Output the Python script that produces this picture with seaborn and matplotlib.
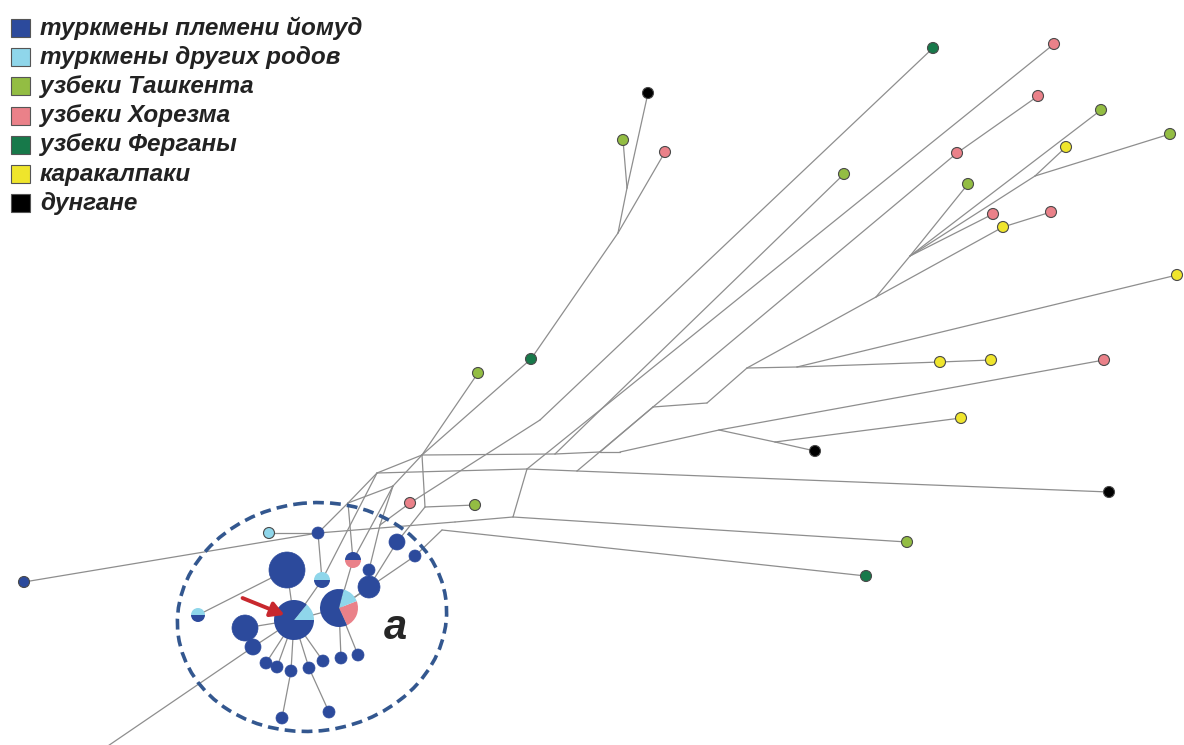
import numpy as np
import pandas as pd
import seaborn as sns
import matplotlib.pyplot as plt
from matplotlib.patches import Wedge, Rectangle, Ellipse

# groups for the legend
group_keys = ['yom', 'oth', 'tash', 'khor', 'ferg', 'kar', 'dung']
group_labels = ['туркмены племени йомуд', 'туркмены других родов', 'узбеки Ташкента',
                'узбеки Хорезма', 'узбеки Ферганы', 'каракалпаки', 'дунгане']
group_colors = ['#2c4a9c', '#8fd6ea', '#93bd43', '#ea8189', '#17794a', '#efe52c', '#000000']

# network nodes: haplotypes (h, c) and median vectors (m, w); position in picture px
node_id = ['h1', 'h2', 'h3', 'h4', 'h5', 'h6', 'h7', 'h8', 'h9', 'h10',
           'h11', 'h12', 'h13', 'h14', 'h15', 'h16', 'h17', 'h18', 'h19', 'h20',
           'h21', 'h22', 'h23', 'h24', 'h25', 'h26', 'h27', 'h28', 'h29', 'h30',
           'c1', 'c2', 'c3', 'c4', 'c5', 'c6', 'c7', 'c8', 'c9', 'c10',
           'c11', 'c12', 'c13', 'c14', 'c15', 'c16', 'c17', 'c18', 'c19', 'c20',
           'c21', 'c22',
           'm1', 'm2', 'm3', 'm4', 'm5', 'm6', 'm7', 'm8', 'm9', 'm10',
           'm11', 'm12', 'm13', 'm14', 'm15', 'm16', 'm17', 'm18', 'm19', 'm20',
           'm21', 'm22', 'm23', 'w1', 'w2', 'w4', 'off']
node_x = [648, 623, 665, 933, 1054, 1038, 1101, 1066, 1170, 957,
          844, 968, 993, 1003, 1051, 1177, 531, 478, 940, 991,
          1104, 961, 815, 1109, 410, 475, 907, 866, 24, 269,
          287, 294, 339, 397, 318, 353, 322, 369, 369, 415,
          198, 245, 253, 266, 277, 291, 309, 323, 341, 358,
          282, 329,
          422, 377, 425, 620, 719, 527, 513, 618, 627, 747,
          797, 876, 653, 707, 910, 1035, 775, 455, 442, 555,
          600, 540, 577, 348, 393, 380, 80]
node_y = [93, 140, 152, 48, 44, 96, 110, 147, 134, 153,
          174, 184, 214, 227, 212, 275, 359, 373, 362, 360,
          360, 418, 451, 492, 503, 505, 542, 576, 582, 533,
          570, 620, 608, 542, 533, 560, 580, 570, 587, 556,
          615, 628, 647, 663, 667, 671, 668, 661, 658, 655,
          718, 712,
          455, 473, 507, 452, 430, 469, 517, 233, 188, 368,
          367, 297, 407, 403, 256, 176, 442, 522, 530, 454,
          452, 420, 471, 503, 486, 525, 765]
node_grp = ['dung', 'tash', 'khor', 'ferg', 'khor', 'khor', 'tash', 'kar', 'tash', 'khor',
            'tash', 'tash', 'khor', 'kar', 'khor', 'kar', 'ferg', 'tash', 'kar', 'kar',
            'khor', 'kar', 'dung', 'dung', 'khor', 'tash', 'tash', 'ferg', 'yom', 'oth',
            'yom', 'pie', 'pie', 'yom', 'yom', 'pie', 'pie', 'yom', 'yom', 'yom',
            'pie', 'yom', 'yom', 'yom', 'yom', 'yom', 'yom', 'yom', 'yom', 'yom',
            'yom', 'yom'] + ['mv'] * 27
node_r = [5.5] * 30 + [18, 20, 19, 8, 6, 8, 8, 6, 11, 6,
                       7, 13, 8, 6, 6, 6, 6, 6, 6, 6,
                       6, 6] + [0] * 27

# links of the network
edges = [('h17', 'm8'), ('m8', 'h3'), ('m8', 'm9'), ('m9', 'h2'), ('m9', 'h1'),
         ('m1', 'h17'), ('m1', 'h18'), ('m1', 'm2'), ('m1', 'm20'), ('m20', 'm21'),
         ('m21', 'm4'), ('m1', 'm3'), ('m2', 'm6'), ('m6', 'm23'), ('m23', 'h24'),
         ('m6', 'm7'), ('m7', 'h27'), ('m3', 'h26'),
         ('h25', 'm22'), ('m22', 'h4'), ('m20', 'h11'), ('m6', 'h5'),
         ('m21', 'm13'), ('m13', 'h10'), ('h10', 'h6'), ('m13', 'm14'), ('m14', 'm10'),
         ('m10', 'm11'), ('m11', 'h19'), ('h19', 'h20'), ('m11', 'h16'), ('m10', 'm12'),
         ('m12', 'm15'), ('m15', 'h12'), ('m12', 'h14'), ('h14', 'h15'), ('m15', 'h13'),
         ('m15', 'm16'), ('m16', 'h8'), ('m15', 'h7'), ('m16', 'h9'), ('m23', 'm13'),
         ('m4', 'm5'), ('m5', 'h21'), ('m5', 'm17'), ('m17', 'h23'), ('m17', 'h22'),
         ('m18', 'm7'), ('c5', 'm18'), ('c10', 'm19'), ('m19', 'h28'), ('c3', 'c10'),
         ('h29', 'c5'), ('h30', 'c5'),
         ('m2', 'w1'), ('m1', 'w2'), ('w1', 'w2'), ('w1', 'c6'), ('w1', 'c5'),
         ('w2', 'w4'), ('w4', 'c8'), ('m3', 'c4'), ('w4', 'h25'), ('c4', 'c9'),
         ('m2', 'c7'), ('w2', 'c6'),
         ('c1', 'c2'), ('c2', 'c14'), ('c2', 'c15'), ('c2', 'c16'), ('c2', 'c17'),
         ('c2', 'c18'), ('c3', 'c19'), ('c3', 'c20'), ('c16', 'c21'), ('c17', 'c22'),
         ('c11', 'c1'), ('off', 'c13'), ('c13', 'c2'), ('c12', 'c2'), ('c7', 'c2'),
         ('c5', 'c7'), ('c6', 'c3'), ('c8', 'c9'), ('c9', 'c3'), ('c2', 'c3')]

# mixed haplotypes: start angle (deg, counter-clockwise) and shares
pie_id = ['c2', 'c3', 'c6', 'c7', 'c11']
pie_start = [0, -65, 0, 0, 0]
pie_parts = [[('oth', 0.14), ('yom', 0.86)],
             [('khor', 0.24), ('oth', 0.15), ('yom', 0.61)],
             [('yom', 0.5), ('khor', 0.5)],
             [('oth', 0.5), ('yom', 0.5)],
             [('oth', 0.5), ('yom', 0.5)]]

pal = dict(zip(group_keys, group_colors))
nodes = pd.DataFrame({'id': node_id, 'x': node_x, 'y': node_y,
                      'grp': node_grp, 'r': node_r}).set_index('id')
nodes['area'] = (2 * nodes['r'] * 0.72) ** 2

rows = []
for k, (a, b) in enumerate(edges):
    rows.append((k, nodes.loc[a, 'x'], nodes.loc[a, 'y']))
    rows.append((k, nodes.loc[b, 'x'], nodes.loc[b, 'y']))
edf = pd.DataFrame(rows, columns=['eid', 'x', 'y'])

sns.set_style('white')
fig = plt.figure(figsize=(11.84, 7.45), dpi=100)
ax = fig.add_axes([0, 0, 1, 1])

sns.lineplot(data=edf, x='x', y='y', units='eid', estimator=None, sort=False,
             color='#8e8e8e', lw=0.9, ax=ax, legend=False, zorder=1)

term = nodes[nodes.index.str.startswith('h')].reset_index()
clus = nodes[nodes.index.str.startswith('c') & (nodes['grp'] != 'pie')].reset_index()
amin, amax = nodes.loc[nodes['r'] > 0, 'area'].min(), nodes['area'].max()
sns.scatterplot(data=term, x='x', y='y', hue='grp', palette=pal, size='area',
                sizes=(amin, amax), size_norm=(amin, amax), edgecolor='#4a4a4a',
                linewidth=0.8, legend=False, ax=ax, zorder=3)
sns.scatterplot(data=clus, x='x', y='y', hue='grp', palette=pal, size='area',
                sizes=(amin, amax), size_norm=(amin, amax), edgecolor=pal['yom'],
                linewidth=0.5, legend=False, ax=ax, zorder=3)

for pid, start, parts in zip(pie_id, pie_start, pie_parts):
    cx, cy, r = nodes.loc[pid, ['x', 'y', 'r']]
    a0 = start
    for g, frac in parts:
        a1 = a0 + frac * 360
        # y axis runs downward, so visual angles are mirrored
        ax.add_patch(Wedge((cx, cy), r, -a1, -a0, fc=pal[g], ec='none', zorder=4))
        a0 = a1

ax.add_patch(Ellipse((312, 617), 270, 228, angle=-8, fill=False, ec='#33578f',
                     lw=2.6, ls=(0, (3.0, 1.7)), zorder=2))
ax.annotate('', xy=(287, 616), xytext=(240, 597),
            arrowprops=dict(arrowstyle='-|>,head_length=0.8,head_width=0.45',
                            color='#c8282e', lw=2.8), zorder=5)
ax.text(395, 628, 'а', fontsize=30, fontweight='bold', fontstyle='italic',
        family='Liberation Sans', ha='center', va='center')

# legend
for i, (g, lab) in enumerate(zip(group_keys, group_labels)):
    cy = 28 + i * 29.2
    ax.add_patch(Rectangle((11, cy - 9), 19, 18, fc=pal[g], ec='#555555', lw=0.8))
    ax.text(40, cy, lab, fontsize=17.5, fontweight='bold', fontstyle='italic',
            family='Liberation Sans', va='center', ha='left', color='#222222')

ax.set_xlim(0, 1184)
ax.set_ylim(745, 0)
ax.axis('off')
fig.savefig('out.png', dpi=100)
